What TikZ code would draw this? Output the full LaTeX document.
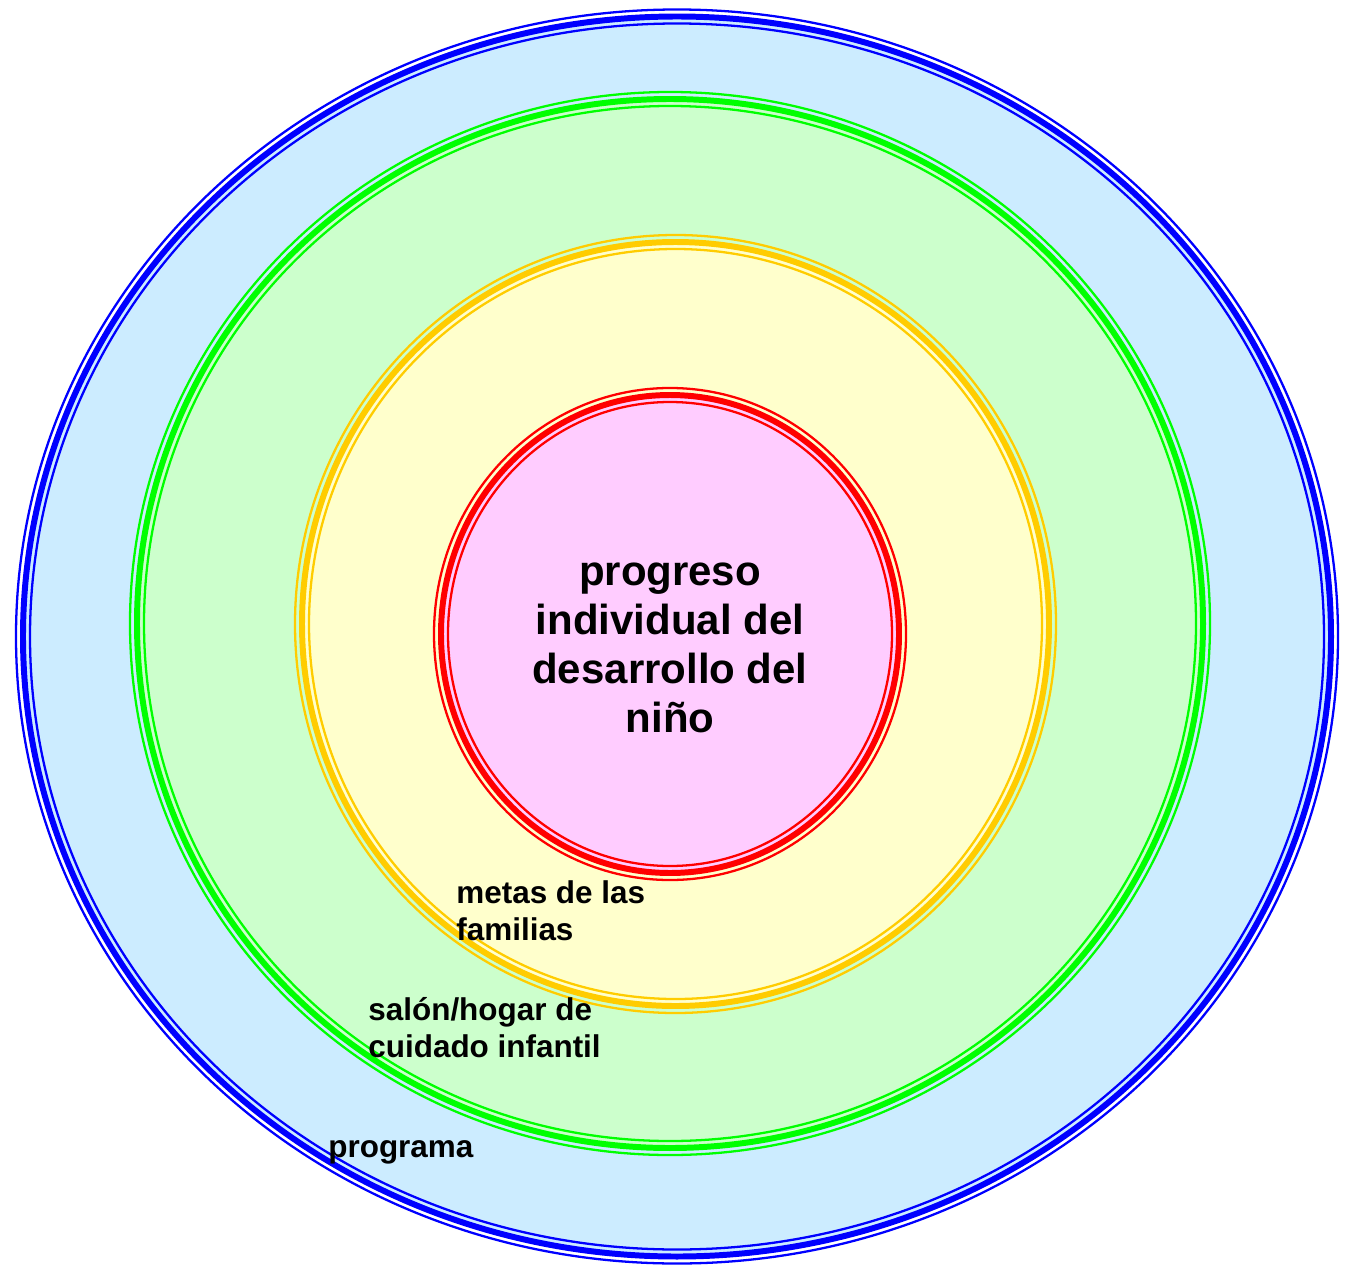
\documentclass[tikz,border=0pt]{standalone}
\usepackage{fontspec}
\setmainfont{Liberation Sans}

\definecolor{bluefill}{HTML}{CCECFF}
\definecolor{blueline}{HTML}{0000FF}
\definecolor{greenfill}{HTML}{CCFFCC}
\definecolor{greenline}{HTML}{00FF00}
\definecolor{yellowfill}{HTML}{FFFFCC}
\definecolor{yellowline}{HTML}{FFCC00}
\definecolor{pinkfill}{HTML}{FFCCFF}
\definecolor{redline}{HTML}{FF0000}

\begin{document}
\begin{tikzpicture}[x=0.02cm,y=0.02cm,
    thinline/.style={line width=1.3pt},
    thickline/.style={line width=3.4pt},
    centerlabel/.style={font=\fontsize{23.9}{27.8}\selectfont\bfseries,align=center,inner sep=0pt},
    ringlabel/.style={font=\fontsize{17.9}{20.7}\selectfont\bfseries,align=left,inner sep=0pt,anchor=base west}]
    \useasboundingbox (0,0) rectangle (1345,-1264);
    % rings, outside in
    \foreach \cx/\cy/\rx/\ry/\fc/\lc in {677/636.5/654/620/bluefill/blueline,
        670/623.5/533/524.5/greenfill/greenline,
        675.5/624/373.5/382/yellowfill/yellowline,
        670/634/229/239/pinkfill/redline}{
        \fill[\fc](\cx,-\cy)ellipse[x radius=\rx,y radius=\ry];
        \draw[\lc,thickline](\cx,-\cy)ellipse[x radius=\rx,y radius=\ry];
        \draw[\lc,thinline](\cx,-\cy)ellipse[x radius=\rx+7,y radius=\ry+7];
        \draw[\lc,thinline](\cx,-\cy)ellipse[x radius=\rx-7,y radius=\ry-7];
    }
    % labels, placed at the baseline of their last line
    \node[centerlabel,anchor=base] (child) at (670,-732)
    {progreso\\individual del\\desarrollo del\\niño};
    \node[ringlabel] (families) at (456,-940) {metas de las\\familias};
    \node[ringlabel] (classroom) at (368,-1057) {salón/hogar de\\cuidado infantil};
    \node[ringlabel] (program) at (328,-1157) {programa};
\end{tikzpicture}
\end{document}
